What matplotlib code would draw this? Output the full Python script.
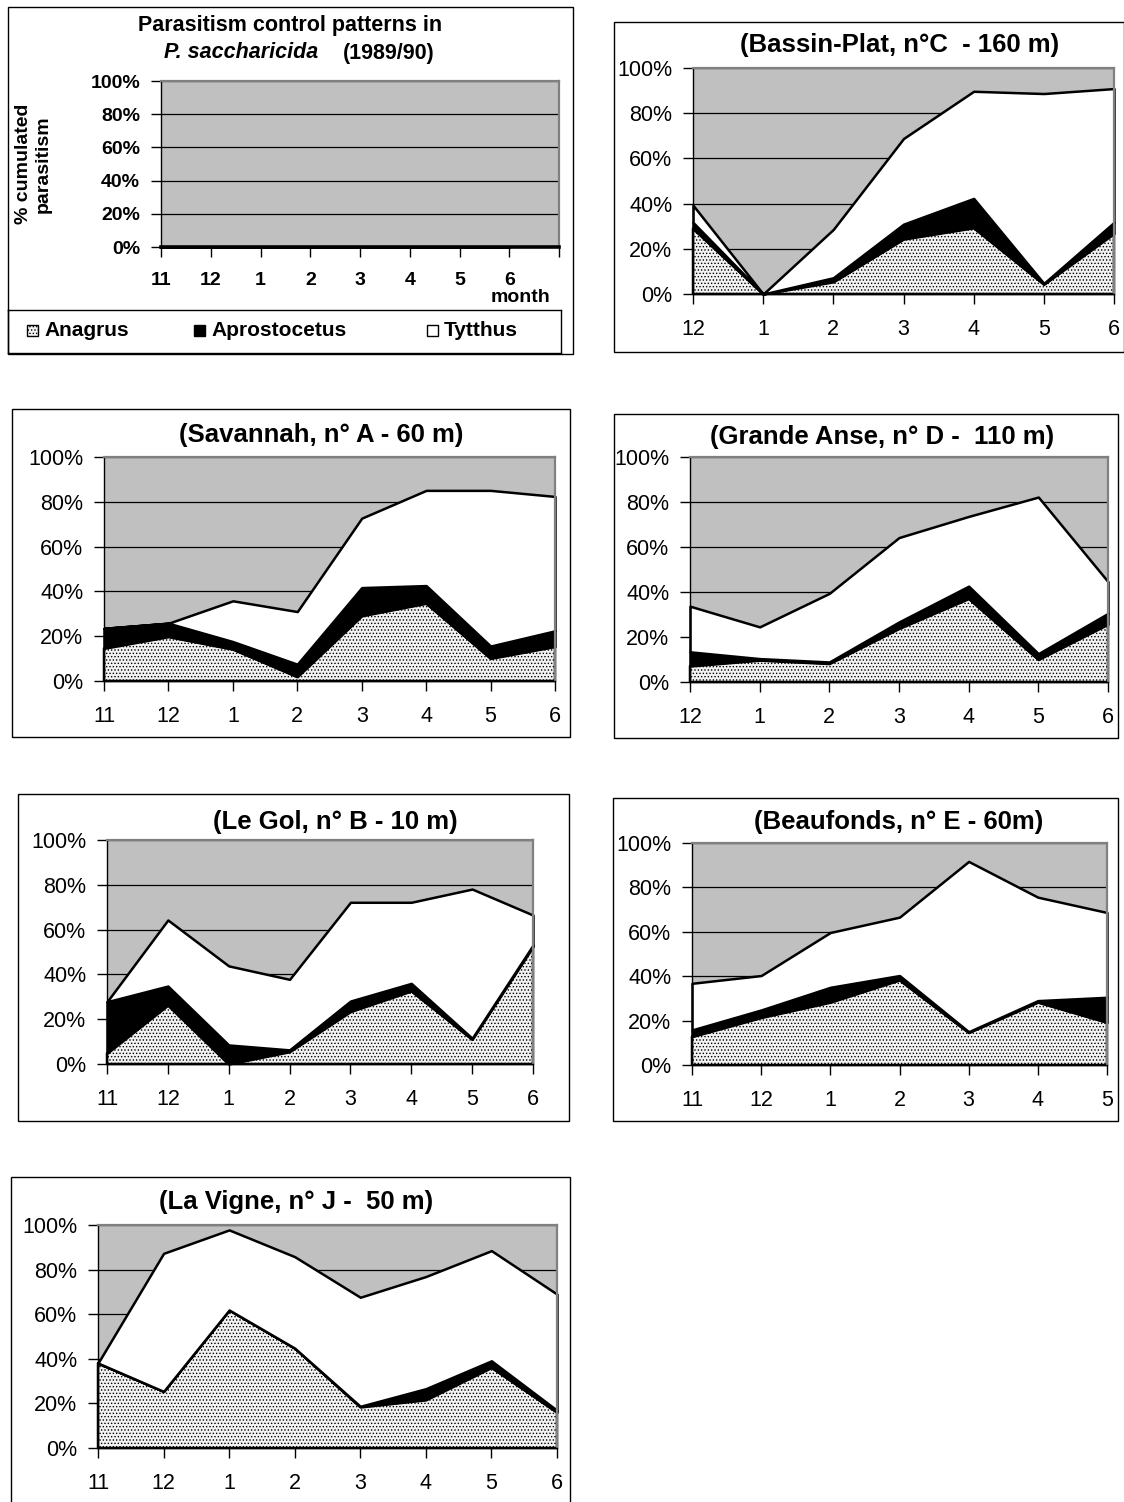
import matplotlib
matplotlib.use('Agg')
import matplotlib.pyplot as plt
from matplotlib.patches import Rectangle

plt.rcParams['font.family'] = ['Liberation Sans', 'DejaVu Sans']
plt.rcParams['hatch.color'] = '#505050'
plt.rcParams['hatch.linewidth'] = 0.6

W, H = 1124, 1502

# ---- data (% parasitism per month) ----
months_11_6 = ['11', '12', '1', '2', '3', '4', '5', '6']
months_12_6 = ['12', '1', '2', '3', '4', '5', '6']
months_11_5 = ['11', '12', '1', '2', '3', '4', '5']

# title panel: empty series
title_anagrus = [0, 0, 0, 0, 0, 0, 0, 0]
title_aprosto = [0, 0, 0, 0, 0, 0, 0, 0]
title_tytthus = [0, 0, 0, 0, 0, 0, 0, 0]

# Bassin-Plat
bp_anagrus = [29.0, 0, 5.4, 24.3, 29.3, 4.3, 26.8]
bp_aprosto = [2.7, 0, 1.8, 6.6, 13.0, 0.4, 4.9]
bp_tytthus = [7.6, 0, 21.4, 37.9, 47.4, 84.0, 59.2]

# Savannah
sv_anagrus = [14.6, 19.8, 14.2, 1.9, 29.1, 34.7, 10.1, 15.4]
sv_aprosto = [8.9, 6.0, 3.4, 5.6, 12.6, 7.9, 5.5, 7.0]
sv_tytthus = [0, 0, 18.2, 23.5, 31.0, 42.5, 69.5, 60.0]

# Grande Anse
ga_anagrus = [7.1, 9.7, 8.2, 23.8, 37.1, 10.0, 25.7]
ga_aprosto = [6.3, 0.7, 0.7, 2.9, 5.5, 2.6, 4.8]
ga_tytthus = [20.3, 14.1, 30.5, 37.5, 31.0, 69.6, 14.1]

# Le Gol
lg_anagrus = [4.8, 26.3, 0, 5.5, 23.4, 32.6, 11.0, 52.4]
lg_aprosto = [23.0, 8.5, 8.5, 0.8, 4.7, 3.4, 0.5, 0.7]
lg_tytthus = [0, 29.5, 35.3, 31.5, 44.1, 36.2, 66.6, 13.4]

# Beaufonds
bf_anagrus = [12.8, 21.4, 28.3, 38.3, 14.6, 28.3, 19.2]
bf_aprosto = [3.0, 3.4, 6.7, 2.0, 0.4, 0.7, 11.3]
bf_tytthus = [21.0, 15.5, 24.7, 26.3, 76.7, 46.6, 38.2]

# La Vigne
lv_anagrus = [38.1, 25.4, 61.9, 44.8, 18.4, 21.6, 36.1, 16.0]
lv_aprosto = [0, 0, 0, 0, 0.3, 5.0, 3.0, 0.9]
lv_tytthus = [0, 61.9, 35.9, 41.0, 48.9, 50.3, 49.4, 52.1]

fig = plt.figure(figsize=(W / 100, H / 100), dpi=100)


def rect(x0, y0, x1, y1):
    return [x0 / W, 1 - y1 / H, (x1 - x0) / W, (y1 - y0) / H]


def box(x0, y0, x1, y1):
    fig.patches.append(Rectangle((x0 / W, 1 - y1 / H), (x1 - x0) / W, (y1 - y0) / H,
                                 transform=fig.transFigure, fill=False,
                                 edgecolor='black', linewidth=1.0))


def panel(pos, labels, anagrus, aprosto, tytthus, title=None, title_xy=None,
          bold=False, xmax=None, size=15.5):
    ax = fig.add_axes(rect(*pos))
    x = list(range(len(labels)))
    polys = ax.stackplot(x, anagrus, aprosto, tytthus,
                         colors=['#f2f2f2', 'black', 'white'],
                         edgecolor='black', linewidth=1.8)
    polys[0].set_hatch('.....')
    for p in polys:
        p.set_clip_on(False)
    ax.set_facecolor('#c0c0c0')
    ax.set_axisbelow(True)
    ax.yaxis.grid(True, color='black', linewidth=0.9)
    ax.set_ylim(0, 100)
    n = xmax if xmax is not None else len(labels) - 1
    ax.set_xlim(0, n)
    ax.set_xticks(range(n + 1))
    ax.set_xticklabels(labels + [''] * (n + 1 - len(labels)))
    ax.set_yticks([0, 20, 40, 60, 80, 100])
    ax.set_yticklabels(['0%', '20%', '40%', '60%', '80%', '100%'])
    weight = 'bold' if bold else 'normal'
    ax.tick_params(axis='x', length=7, width=1, pad=11, labelsize=size)
    ax.tick_params(axis='y', length=7, width=1, pad=8, labelsize=size)
    for t in ax.get_xticklabels() + ax.get_yticklabels():
        t.set_fontweight(weight)
    for s in ['top', 'right']:
        ax.spines[s].set_color('#808080')
        ax.spines[s].set_linewidth(1.6)
    for s in ['left', 'bottom']:
        ax.spines[s].set_color('black')
        ax.spines[s].set_linewidth(1.0)
    if title:
        fig.text(title_xy[0] / W, 1 - title_xy[1] / H, title, ha='center', va='center',
                 fontsize=18.5, fontweight='bold')
    return ax


# ---- title / legend panel ----
box(8, 7, 573, 354)
ax1 = panel((161, 81, 559, 247), months_11_6, title_anagrus, title_aprosto, title_tytthus,
            bold=True, xmax=8, size=14)
ax1.spines['bottom'].set_linewidth(2.6)
ax1.set_ylabel('% cumulated\nparasitism', fontsize=14, fontweight='bold')
ax1.yaxis.set_label_coords(-0.275, 0.5)
fig.text(520 / W, 1 - 297 / H, 'month', ha='center', va='center', fontsize=14, fontweight='bold')
fig.text(290 / W, 1 - 25 / H, 'Parasitism control patterns in', ha='center', va='center',
         fontsize=15.5, fontweight='bold')
fig.text(318 / W, 1 - 53 / H, 'P. saccharicida', ha='right', va='center',
         fontsize=15.5, fontweight='bold', style='italic')
fig.text(343 / W, 1 - 53 / H, '(1989/90)', ha='left', va='center',
         fontsize=15.5, fontweight='bold')

# legend row
lg = fig.add_axes(rect(8, 310, 561, 353))
lg.set_xlim(8, 561)
lg.set_ylim(353, 310)
lg.set_xticks([])
lg.set_yticks([])
for s in lg.spines.values():
    s.set_linewidth(1.0)
legend_items = [('Anagrus', 27, '#f2f2f2', '.....'), ('Aprostocetus', 194, 'black', None),
                ('Tytthus', 427, 'white', None)]
for name, lx, fc, hatch in legend_items:
    lg.add_patch(Rectangle((lx, 325), 11, 11, facecolor=fc, edgecolor='black',
                           linewidth=1.0, hatch=hatch))
    lg.text(lx + 17, 331, name, ha='left', va='center', fontsize=15, fontweight='bold')

# ---- site panels ----
box(614, 22, 1124, 352)
panel((693, 68, 1114, 294), months_12_6, bp_anagrus, bp_aprosto, bp_tytthus,
      '(Bassin-Plat, n°C  - 160 m)', (900, 45))

box(12, 409, 570, 737)
panel((104, 457, 555, 681), months_11_6, sv_anagrus, sv_aprosto, sv_tytthus,
      '(Savannah, n° A - 60 m)', (321, 435))

box(614, 414, 1118, 738)
panel((690, 457, 1108, 682), months_12_6, ga_anagrus, ga_aprosto, ga_tytthus,
      '(Grande Anse, n° D -  110 m)', (882, 437))

box(18, 794, 569, 1121)
panel((107, 840, 533, 1064), months_11_6, lg_anagrus, lg_aprosto, lg_tytthus,
      '(Le Gol, n° B - 10 m)', (335, 822))

box(613, 798, 1118, 1121)
panel((692, 843, 1107, 1065), months_11_5, bf_anagrus, bf_aprosto, bf_tytthus,
      '(Beaufonds, n° E - 60m)', (899, 822))

box(11, 1177, 570, 1510)
panel((98, 1225, 557, 1448), months_11_6, lv_anagrus, lv_aprosto, lv_tytthus,
      '(La Vigne, n° J -  50 m)', (296, 1202))

fig.savefig('out.png', dpi=100)
